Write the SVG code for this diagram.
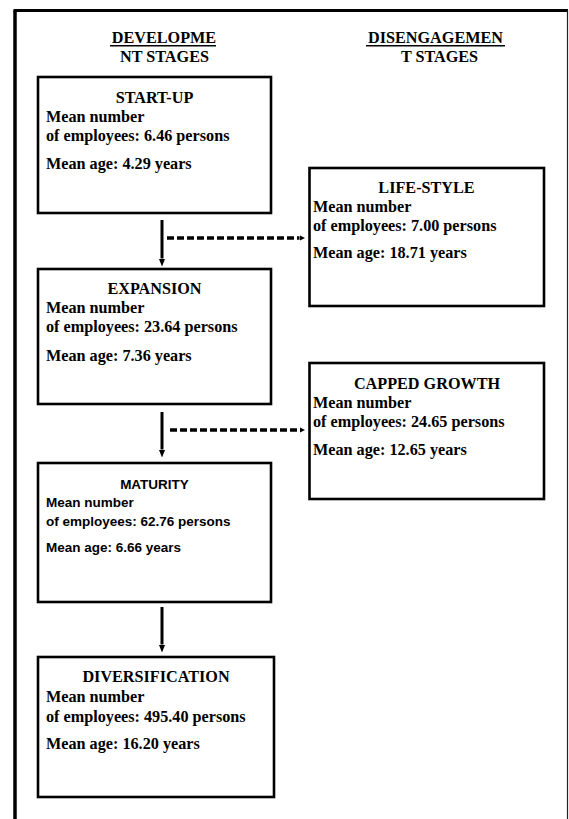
<svg xmlns="http://www.w3.org/2000/svg" width="569" height="819" viewBox="0 0 569 819">
<style>
  .box { fill: #fff; stroke: #000; stroke-width: 2.6; }
  .serif { font-family: "Liberation Serif", "Times New Roman", serif; font-weight: bold; font-size: 16.2px; fill: #000; }
  .sans { font-family: "Liberation Sans", Arial, sans-serif; font-weight: bold; font-size: 13.5px; fill: #000; }
  .mid { text-anchor: middle; }
  .solid { stroke: #000; stroke-width: 3; fill: none; }
  .dash { stroke: #000; stroke-width: 3.5; fill: none; stroke-dasharray: 7 3; }
</style>
<defs>
  <marker id="headV" markerUnits="userSpaceOnUse" markerWidth="8" markerHeight="7" refX="0" refY="3.2" orient="auto">
    <path d="M0,0 L8,3.2 L0,6.4 z" fill="#000"/>
  </marker>
  <marker id="headD" markerUnits="userSpaceOnUse" markerWidth="6" markerHeight="6" refX="0" refY="2.8" orient="auto">
    <path d="M0,0 L5.5,2.8 L0,5.6 z" fill="#000"/>
  </marker>
</defs>
<rect x="0" y="0" width="569" height="819" fill="#fff"/>
<g id="frame">
  <line x1="15" y1="10.5" x2="15" y2="819" stroke="#000" stroke-width="3.5"/>
  <line x1="13.5" y1="10.5" x2="568" y2="10.5" stroke="#000" stroke-width="3"/>
  <line x1="567.5" y1="10" x2="567.5" y2="819" stroke="#222" stroke-width="1.2"/>
</g>
<g id="headers">
  <text class="serif mid" x="164" y="43.3">DEVELOPME</text>
  <line x1="110" y1="45.7" x2="216" y2="45.7" stroke="#000" stroke-width="1.5"/>
  <text class="serif mid" x="164.5" y="61.5">NT STAGES</text>
  <text class="serif mid" x="435.5" y="43.3">DISENGAGEMEN</text>
  <line x1="366" y1="45.7" x2="505" y2="45.7" stroke="#000" stroke-width="1.5"/>
  <text class="serif mid" x="439.5" y="61.5">T STAGES</text>
</g>
<g id="connectors">
  <line class="solid" x1="162" y1="220" x2="162" y2="258.5" marker-end="url(#headV)"/>
  <line class="solid" x1="162" y1="412" x2="162" y2="449.5" marker-end="url(#headV)"/>
  <line class="solid" x1="162" y1="607" x2="162" y2="644.5" marker-end="url(#headV)"/>
  <line class="dash" x1="167" y1="238" x2="299.5" y2="238" marker-end="url(#headD)"/>
  <line class="dash" x1="170" y1="430" x2="299.5" y2="430" marker-end="url(#headD)"/>
</g>
<g id="startup">
  <rect class="box" x="38" y="77" width="233" height="136"/>
  <text class="serif mid" x="154.5" y="103">START-UP</text>
  <text class="serif" x="46" y="122">Mean number</text>
  <text class="serif" x="46" y="141">of employees: 6.46 persons</text>
  <text class="serif" x="46" y="168.5">Mean age: 4.29 years</text>
</g>
<g id="lifestyle">
  <rect class="box" x="309.5" y="168" width="234.5" height="138"/>
  <text class="serif mid" x="426.5" y="193">LIFE-STYLE</text>
  <text class="serif" x="313" y="212">Mean number</text>
  <text class="serif" x="313" y="231">of employees: 7.00 persons</text>
  <text class="serif" x="313" y="257.5">Mean age: 18.71 years</text>
</g>
<g id="expansion">
  <rect class="box" x="38" y="269" width="233" height="135"/>
  <text class="serif mid" x="154.5" y="293.5">EXPANSION</text>
  <text class="serif" x="46" y="313">Mean number</text>
  <text class="serif" x="46" y="332">of employees: 23.64 persons</text>
  <text class="serif" x="46" y="360.5">Mean age: 7.36 years</text>
</g>
<g id="capped">
  <rect class="box" x="309.5" y="363" width="234.5" height="136"/>
  <text class="serif mid" x="427" y="388.5">CAPPED GROWTH</text>
  <text class="serif" x="313" y="407.5">Mean number</text>
  <text class="serif" x="313" y="426.5">of employees: 24.65 persons</text>
  <text class="serif" x="313" y="455">Mean age: 12.65 years</text>
</g>
<g id="maturity">
  <rect class="box" x="38" y="463" width="233" height="139"/>
  <text class="sans mid" x="154.5" y="488.5">MATURITY</text>
  <text class="sans" x="46" y="507">Mean number</text>
  <text class="sans" x="46" y="526">of employees: 62.76 persons</text>
  <text class="sans" x="46" y="552">Mean age: 6.66 years</text>
</g>
<g id="diversification">
  <rect class="box" x="38" y="657" width="236" height="140"/>
  <text class="serif mid" x="156" y="682">DIVERSIFICATION</text>
  <text class="serif" x="46" y="702">Mean number</text>
  <text class="serif" x="46" y="721.5">of employees: 495.40 persons</text>
  <text class="serif" x="46" y="748.5">Mean age: 16.20 years</text>
</g>
</svg>
